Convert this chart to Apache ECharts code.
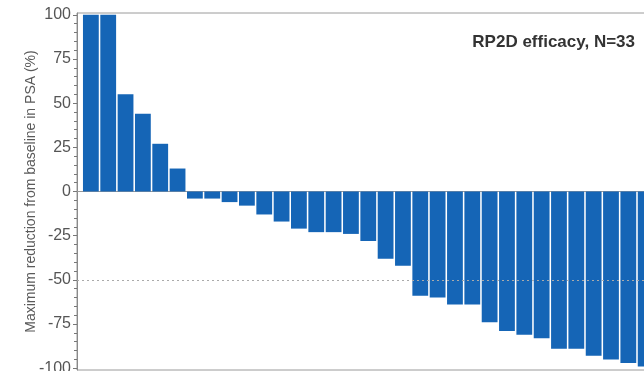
<!DOCTYPE html>
<html>
<head>
<meta charset="utf-8">
<script src="https://cdn.jsdelivr.net/npm/echarts@6/dist/echarts.min.js"></script>
<style>
  html, body { margin: 0; padding: 0; background: #ffffff; }
  #chart { width: 644px; height: 371px; }
</style>
</head>
<body>
<div id="chart"></div>
<script>
// Waterfall of best PSA change per patient, sorted from largest rise to deepest fall
const patients = [1, 2, 3, 4, 5, 6, 7, 8, 9, 10, 11, 12, 13, 14, 15, 16, 17,
                  18, 19, 20, 21, 22, 23, 24, 25, 26, 27, 28, 29, 30, 31, 32, 33];
const psaChange = [100, 100, 55, 44, 27, 13, -4, -4, -6, -8, -13, -17, -21, -23, -23, -24, -28,
                   -38, -42, -59, -60, -64, -64, -74, -79, -81, -83, -89, -89, -93, -95, -97, -99];
const yTickLabels = [-100, -75, -50, -25, 0, 25, 50, 75, 100];
const responseThreshold = -50;
const titleText = 'RP2D efficacy, N=33';
const yAxisTitle = 'Maximum reduction from baseline in PSA (%)';

const minorTicks = [];
for (let v = -100; v <= 100; v += 5) minorTicks.push(v);

const font = '"Liberation Sans", Arial, sans-serif';

const chart = echarts.init(document.getElementById('chart'), null, { renderer: 'canvas' });
chart.setOption({
  animation: false,
  backgroundColor: '#ffffff',
  title: {
    text: titleText,
    right: 4,
    top: 29,
    textStyle: { fontFamily: font, fontSize: 17, fontWeight: 'bold', color: '#333333' }
  },
  grid: {
    left: 77, top: 13, width: 586, height: 357,
    outerBoundsMode: 'none',
    containLabel: false,
    show: true, borderColor: '#9a9a9a', borderWidth: 1, backgroundColor: 'transparent'
  },
  xAxis: {
    type: 'value',
    min: 0.2,
    max: 34.0,
    axisLine: { show: true, onZero: true, lineStyle: { color: '#999999', width: 1 } },
    axisTick: { show: false },
    axisLabel: { show: false },
    splitLine: { show: false }
  },
  yAxis: [
    {
      type: 'value',
      min: -101,
      max: 101,
      name: yAxisTitle,
      nameLocation: 'middle',
      nameGap: 39,
      nameMoveOverlap: false,
      nameTextStyle: { fontFamily: font, fontSize: 14, color: '#5a5a5a' },
      axisLine: { show: true, lineStyle: { color: '#8a8a8a', width: 1 } },
      axisTick: { show: true, customValues: yTickLabels, length: 4, lineStyle: { color: '#777777' } },
      axisLabel: { show: true, customValues: yTickLabels, margin: 6, fontFamily: font, fontSize: 16, color: '#555555' },
      splitLine: { show: false }
    },
    {
      type: 'value',
      min: -101,
      max: 101,
      position: 'left',
      offset: 0,
      axisLine: { show: false },
      axisTick: { show: true, customValues: minorTicks, length: 3, lineStyle: { color: '#777777', width: 1 } },
      axisLabel: { show: false, customValues: minorTicks },
      splitLine: { show: false }
    }
  ],
  series: [{
    type: 'bar',
    yAxisIndex: 0,
    barWidth: 15.8,
    data: patients.map((p, i) => [p, psaChange[i]]),
    itemStyle: { color: '#1565b6' },
    markLine: {
      silent: true,
      symbol: 'none',
      label: { show: false },
      lineStyle: { color: '#aaaaaa', type: [2, 3], width: 1 },
      data: [{ yAxis: responseThreshold }]
    }
  }]
});
</script>
</body>
</html>
